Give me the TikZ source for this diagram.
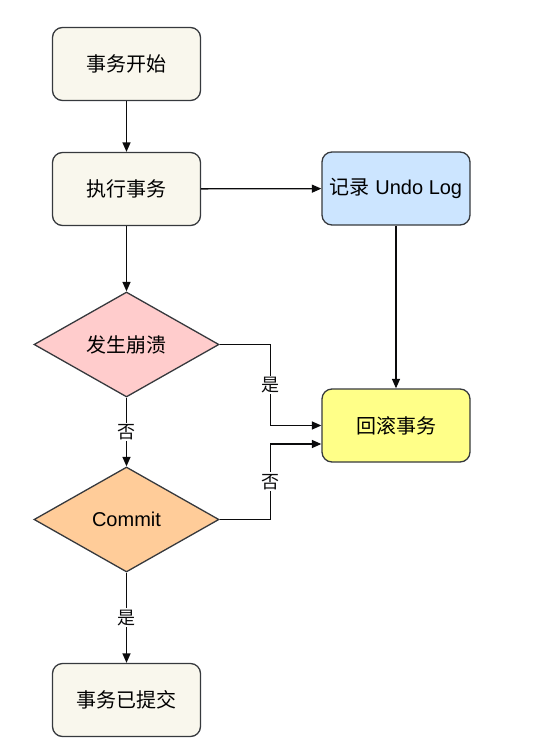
\documentclass[tikz,border=0pt]{standalone}
\usepackage{fontspec}
\setmainfont{Liberation Sans}
\newfontfamily\cjk{Noto Sans CJK SC}
\usepackage{xcolor}
\usetikzlibrary{arrows.meta, shapes.geometric}

\definecolor{beige}{HTML}{F9F7ED}
\definecolor{lightblue}{HTML}{CCE5FF}
\definecolor{lightred}{HTML}{FFCCCC}
\definecolor{lightorange}{HTML}{FFCC99}
\definecolor{lightyellow}{HTML}{FFFF88}
\definecolor{strokegray}{HTML}{36393D}

\begin{document}
\begin{tikzpicture}[
		x=1pt, y=-1pt,
		>={Stealth[inset=0pt, length=9.5pt, width=8pt]}, % Pfeilspitzen
		line width=1.3pt,
		every node/.style={font=\fontsize{20}{24}\selectfont},
		box/.style={
			draw=strokegray,
			rounded corners=10pt,
			minimum width=148pt,
			minimum height=73pt,
			inner sep=2pt,
			align=center},
		decision/.style={
			draw=strokegray,
			diamond,
			minimum width=185pt,
			minimum height=105pt,
			inner sep=0pt},
		lbl/.style={fill=white, inner sep=1.5pt, font=\fontsize{18}{21}\selectfont\cjk}
		]
		\useasboundingbox (0,0) rectangle (544,749);
		
		% Hauptspalte
		\node[box, fill=beige] (start) at (126.5,64) {\cjk 事务开始};
		\node[box, fill=beige] (exec) at (126.5,189) {\cjk 执行事务};
		\node[decision, fill=lightred] (crash) at (126.5,344.5) {\cjk 发生崩溃};
		\node[decision, fill=lightorange] (commit) at (126.5,519.5) {Commit};
		\node[box, fill=beige] (done) at (126.5,700) {\cjk 事务已提交};
		
		% Rechte Spalte
		\node[box, fill=lightblue] (undolog) at (396,188.5) {{\cjk 记录} Undo Log};
		\node[box, fill=lightyellow] (rollback) at (396,425.5) {\cjk 回滚事务};
		
		% Transitionen
		\draw[->, strokegray!20!black] (start) -- (exec);
		\draw[->, strokegray!20!black] (exec) -- (undolog);
		\draw[->, strokegray!20!black] (exec) -- (crash);
		\draw[->, strokegray!20!black] (undolog) -- (rollback);
		\draw[->, strokegray!20!black] (crash) -- node[lbl] {否} (commit);
		\draw[->, strokegray!20!black] (commit) -- node[lbl] {是} (done);
		\draw[->, strokegray!20!black] (crash.east) -- ++(51,0) |- node[lbl, pos=0.25] {是} (rollback.west);
		\draw[->, strokegray!20!black] (commit.east) -- ++(51,0) |- node[lbl, pos=0.25] {否} ([yshift=-18.5pt]rollback.west);
		
	\end{tikzpicture}
\end{document}
